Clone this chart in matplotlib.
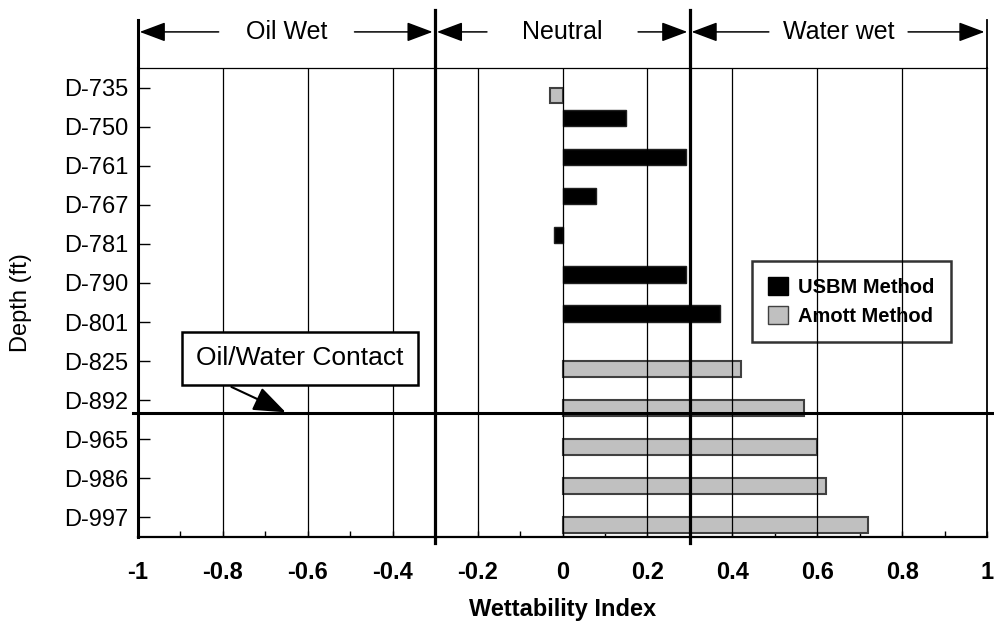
import numpy as np
import matplotlib.pyplot as plt
from matplotlib.patches import Patch

plt.rcParams['font.family'] = ['Liberation Sans', 'DejaVu Sans']

# sample depths, top to bottom
depths = ['D-735', 'D-750', 'D-761', 'D-767', 'D-781', 'D-790',
          'D-801', 'D-825', 'D-892', 'D-965', 'D-986', 'D-997']
# wettability index per method (None = not measured)
usbm = [None, 0.15, 0.29, 0.08, -0.02, 0.29, 0.37, None, None, None, None, None]
amott = [-0.03, None, None, None, None, None, None, 0.42, 0.57, 0.60, 0.62, 0.72]

# wettability classes along the index axis
zones = ['Oil Wet', 'Neutral', 'Water wet']
zone_edges = [-1.0, -0.3, 0.3, 1.0]

owc_pos = 8.33  # oil/water contact, in category units (between D-892 and D-965)

fig = plt.figure(figsize=(9.95, 6.24), dpi=100)
ax = fig.add_axes([0.1387, 0.1394, 0.8533, 0.7516])

y = np.arange(len(depths))
u_idx = [i for i, v in enumerate(usbm) if v is not None]
a_idx = [i for i, v in enumerate(amott) if v is not None]
ax.barh(y[u_idx] - 0.22, [usbm[i] for i in u_idx], height=0.42,
        color='black', edgecolor='#202020', lw=1, zorder=2)
ax.barh(y[a_idx] + 0.20, [amott[i] for i in a_idx], height=0.40,
        color='#c0c0c0', edgecolor='#404040', lw=1.5, zorder=2)

ax.set_xlim(-1, 1)
ax.set_ylim(len(depths) - 0.5, -0.5)

# grid on top of bars
for gx in np.arange(-0.8, 0.81, 0.2):
    ax.axvline(gx, color='black', lw=0.9, zorder=3)

ax.set_xticks(np.round(np.arange(-1, 1.01, 0.2), 1))
ax.set_xticklabels(['-1', '-0.8', '-0.6', '-0.4', '-0.2', '0',
                    '0.2', '0.4', '0.6', '0.8', '1'],
                   fontsize=17, fontweight='bold')
ax.set_xticks(np.arange(-1, 1.01, 0.1), minor=True)
ax.tick_params(axis='x', which='both', direction='in', length=4.5,
               width=1, pad=17)
ax.set_yticks(y)
ax.set_yticklabels(depths, fontsize=17)
ax.tick_params(axis='y', direction='in', length=8.6, width=1, pad=7)

ax.set_xlabel('Wettability Index', fontsize=17, fontweight='bold', labelpad=10)
ax.set_ylabel('Depth (ft)', fontsize=17, labelpad=23)

ax.spines['left'].set_linewidth(2.2)
ax.spines['bottom'].set_linewidth(1.6)
ax.spines['top'].set_linewidth(0.9)
ax.spines['right'].set_linewidth(1.3)

# header with wettability classes
trans = ax.get_xaxis_transform()
for xb in [-0.3, 0.3]:
    ax.plot([xb, xb], [-0.012, 1.124], transform=trans, color='black',
            lw=2.3, clip_on=False, zorder=4)
ax.plot([-1, -1], [1, 1.102], transform=trans, color='black', lw=2.2,
        clip_on=False)
ax.plot([1, 1], [1, 1.102], transform=trans, color='black', lw=1.3,
        clip_on=False)

half_gaps = [0.16, 0.178, 0.164]
for name, lo, hi, hg in zip(zones, zone_edges[:-1], zone_edges[1:], half_gaps):
    xc = (lo + hi) / 2
    ax.text(xc, 1.077, name, transform=trans, ha='center', va='center',
            fontsize=18)
    arrow = dict(arrowstyle='-|>,head_length=0.8,head_width=0.3',
                 color='black', lw=1.1, shrinkA=0, shrinkB=0, mutation_scale=20)
    ax.annotate('', xy=(lo + 0.004, 1.077), xytext=(xc - hg, 1.077),
                xycoords=trans, textcoords=trans, arrowprops=arrow)
    ax.annotate('', xy=(hi - 0.006, 1.077), xytext=(xc + hg, 1.077),
                xycoords=trans, textcoords=trans, arrowprops=arrow)

# oil/water contact
ax.plot([-1.012, 1.03], [owc_pos, owc_pos], color='black', lw=2.2,
        clip_on=False, zorder=4)
ax.text(-0.618, 6.93, 'Oil/Water Contact', ha='center', va='center',
        fontsize=19, zorder=6,
        bbox=dict(boxstyle='square,pad=0.55', fc='white', ec='black', lw=1.8))
ax.annotate('', xy=(-0.652, owc_pos - 0.02), xytext=(-0.78, 7.66),
            arrowprops=dict(arrowstyle='-|>,head_length=1.0,head_width=0.38',
                            color='black', lw=1.5, shrinkA=0, shrinkB=0,
                            mutation_scale=20), zorder=6)

handles = [Patch(facecolor='black', edgecolor='black', label='USBM Method'),
           Patch(facecolor='#c0c0c0', edgecolor='#404040', label='Amott Method')]
leg = ax.legend(handles=handles, loc='upper left', bbox_to_anchor=(0.711, 0.611),
                prop={'size': 14.5, 'weight': 'bold'}, handlelength=1.0,
                handleheight=1.0, handletextpad=0.5, borderpad=0.8,
                labelspacing=0.45, fancybox=False, facecolor='none',
                edgecolor='black', framealpha=None)
leg.get_frame().set_linewidth(1.8)
leg.set_zorder(1)

fig.savefig('out.png', dpi=100)
